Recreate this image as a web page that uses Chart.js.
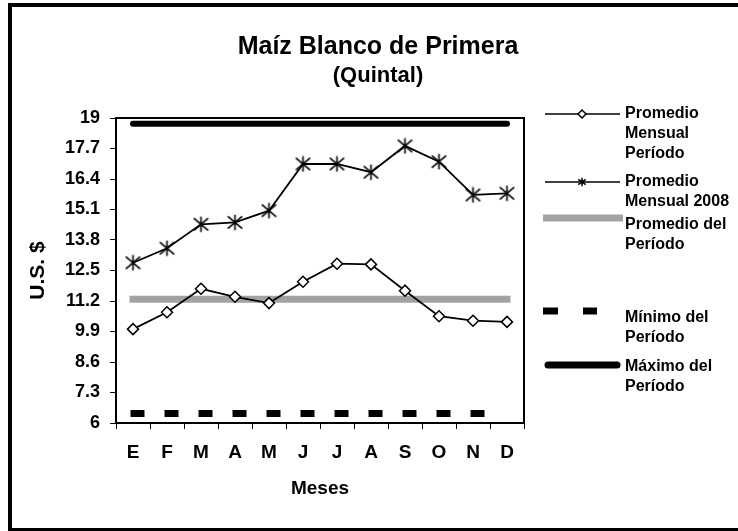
<!DOCTYPE html>
<html>
<head>
<meta charset="utf-8">
<script src="https://cdn.jsdelivr.net/npm/chart.js@4.4.1/dist/chart.umd.min.js"></script>
<style>
    html, body { margin: 0; padding: 0; background: #fff; overflow: hidden; }
    canvas { display: block; }
</style>
</head>
<body>
<canvas id="chart" width="738" height="531"></canvas>
<script>
const meses = ['E', 'F', 'M', 'A', 'M', 'J', 'J', 'A', 'S', 'O', 'N', 'D'];
const yTicks = [6, 7.3, 8.6, 9.9, 11.2, 12.5, 13.8, 15.1, 16.4, 17.7, 19];

// valores (US$ por quintal)
const promedioMensualPeriodo = [10.0, 10.72, 11.72, 11.38, 11.11, 12.02, 12.79, 12.76, 11.64, 10.55, 10.36, 10.31];
const promedioMensual2008 = [12.83, 13.45, 14.47, 14.55, 15.05, 17.04, 17.04, 16.69, 17.81, 17.14, 15.72, 15.79];
const promedioDelPeriodo = [11.27, 11.27, 11.27, 11.27, 11.27, 11.27, 11.27, 11.27, 11.27, 11.27, 11.27, 11.27];
const minimoDelPeriodo = [6.41, 6.41, 6.41, 6.41, 6.41, 6.41, 6.41, 6.41, 6.41, 6.41, 6.41, 6.41];
const maximoDelPeriodo = [18.75, 18.75, 18.75, 18.75, 18.75, 18.75, 18.75, 18.75, 18.75, 18.75, 18.75, 18.75];

const legendLabels = [
    ['Promedio', 'Mensual', 'Período'],
    ['Promedio', 'Mensual 2008'],
    ['Promedio del', 'Período'],
    ['Mínimo del', 'Período'],
    ['Máximo del', 'Período']
];

const FONT = '"Liberation Sans", Arial, sans-serif';
const GRAY = '#a2a2a2';

// asterisco tipo Excel (vertical + X)
function makeStar(size, lw) {
    const c = document.createElement('canvas');
    c.width = size; c.height = size;
    const g = c.getContext('2d');
    const m = size / 2, e = 0.8;
    g.strokeStyle = '#000';
    g.lineWidth = lw;
    g.beginPath();
    g.moveTo(m, e); g.lineTo(m, size - e);
    g.moveTo(e + 0.5, e + 1.5); g.lineTo(size - e - 0.5, size - e - 1.5);
    g.moveTo(e + 0.5, size - e - 1.5); g.lineTo(size - e - 0.5, e + 1.5);
    g.stroke();
    return c;
}
const starMark = makeStar(17, 1.6);
const starSmall = makeStar(10, 1.5);

// marco exterior (sin lado derecho) y borde superior del area de trazado
const frames = {
    id: 'frames',
    beforeDraw(chart) {
        const ctx = chart.ctx;
        ctx.save();
        ctx.fillStyle = '#fff';
        ctx.fillRect(0, 0, chart.width, chart.height);
        ctx.fillStyle = '#000';
        ctx.fillRect(8, 3, chart.width - 8, 4);
        ctx.fillRect(8, 3, 4, chart.height - 3);
        ctx.fillRect(8, chart.height - 3, chart.width - 8, 3);
        ctx.restore();
    },
    beforeDatasetsDraw(chart) {
        const { ctx, chartArea: a } = chart;
        ctx.save();
        ctx.strokeStyle = '#000';
        ctx.lineWidth = 2;
        ctx.beginPath();
        ctx.moveTo(a.left - 1, a.top);
        ctx.lineTo(a.right + 1, a.top);
        ctx.stroke();
        ctx.restore();
    }
};

// leyenda a la derecha, con etiquetas de varias lineas
const sideLegend = {
    id: 'sideLegend',
    afterDraw(chart) {
        const ctx = chart.ctx;
        const r = chart.chartArea.right;
        const x0 = r + 21, x1 = r + 96, tx = r + 101, mid = r + 58;
        const textY = [114, 182, 225, 318, 367];
        const markY = [114, 182, 218, 311, 365];
        ctx.save();
        ctx.strokeStyle = '#000';
        ctx.fillStyle = '#000';

        // 1: linea con rombo
        ctx.lineWidth = 1.5;
        ctx.beginPath();
        ctx.moveTo(x0, markY[0]); ctx.lineTo(x1, markY[0]);
        ctx.stroke();
        ctx.beginPath();
        ctx.moveTo(mid, markY[0] - 4); ctx.lineTo(mid + 4, markY[0]);
        ctx.lineTo(mid, markY[0] + 4); ctx.lineTo(mid - 4, markY[0]);
        ctx.closePath();
        ctx.fillStyle = '#fff';
        ctx.fill();
        ctx.stroke();
        ctx.fillStyle = '#000';

        // 2: linea con asterisco
        ctx.beginPath();
        ctx.moveTo(x0, markY[1]); ctx.lineTo(x1, markY[1]);
        ctx.stroke();
        ctx.drawImage(starSmall, mid - 5, markY[1] - 5);

        // 3: banda gris
        ctx.fillStyle = GRAY;
        ctx.fillRect(x0 - 2, markY[2] - 3.5, 80, 7);
        ctx.fillStyle = '#000';

        // 4: guiones
        ctx.fillRect(x0 - 2, markY[3] - 3.5, 15, 7);
        ctx.fillRect(x0 + 38, markY[3] - 3.5, 14, 7);

        // 5: linea gruesa
        ctx.lineWidth = 7;
        ctx.lineCap = 'round';
        ctx.beginPath();
        ctx.moveTo(x0 + 3, markY[4]); ctx.lineTo(x1 - 3, markY[4]);
        ctx.stroke();

        ctx.font = 'bold 16px ' + FONT;
        ctx.textBaseline = 'middle';
        ctx.textAlign = 'left';
        legendLabels.forEach((lines, i) => {
            lines.forEach((t, j) => ctx.fillText(t, tx, textY[i] + j * 20));
        });
        ctx.restore();
    }
};

const tickFont = { family: FONT, size: 18, weight: 'bold' };

new Chart(document.getElementById('chart'), {
    type: 'line',
    data: {
        labels: meses,
        datasets: [
            {
                label: 'Promedio Mensual Período',
                data: promedioMensualPeriodo,
                borderColor: '#000',
                borderWidth: 1.8,
                pointStyle: 'rectRot',
                pointRadius: 5.5,
                pointBackgroundColor: '#fff',
                pointBorderColor: '#000',
                pointBorderWidth: 1.5
            },
            {
                label: 'Promedio Mensual 2008',
                data: promedioMensual2008,
                borderColor: '#000',
                borderWidth: 1.8,
                pointStyle: starMark,
                pointRadius: 8
            },
            {
                label: 'Máximo del Período',
                data: maximoDelPeriodo,
                borderColor: '#000',
                borderWidth: 6,
                borderCapStyle: 'round',
                pointRadius: 0
            },
            {
                label: 'Mínimo del Período',
                data: minimoDelPeriodo,
                borderColor: '#000',
                borderWidth: 7,
                borderDash: [7, 27],
                borderDashOffset: -1,
                borderCapStyle: 'square',
                pointRadius: 0
            },
            {
                label: 'Promedio del Período',
                data: promedioDelPeriodo,
                borderColor: GRAY,
                borderWidth: 7,
                borderCapStyle: 'square',
                pointRadius: 0
            }
        ]
    },
    options: {
        responsive: false,
        animation: false,
        events: [],
        layout: { padding: { left: 18, right: 0, top: 0, bottom: 0 } },
        plugins: {
            legend: { display: false },
            tooltip: { enabled: false },
            title: {
                display: true,
                text: 'Maíz Blanco de Primera',
                color: '#000',
                font: { family: FONT, size: 25, weight: 'bold', lineHeight: 1.2 },
                padding: { top: 32, bottom: 1 }
            },
            subtitle: {
                display: true,
                text: '(Quintal)',
                color: '#000',
                font: { family: FONT, size: 22, weight: 'bold', lineHeight: 1.2 },
                padding: { top: 0, bottom: 28.6 }
            }
        },
        scales: {
            x: {
                offset: true,
                grid: { drawOnChartArea: false, offset: true, tickLength: 6, color: '#000', lineWidth: 1 },
                border: { color: '#000', width: 2 },
                ticks: { color: '#000', font: { family: FONT, size: 19, weight: 'bold' }, padding: 12, maxRotation: 0, autoSkip: false },
                title: {
                    display: true,
                    text: 'Meses',
                    color: '#000',
                    font: { family: FONT, size: 19, weight: 'bold' },
                    padding: { top: 0, bottom: 31 }
                },
                afterFit: s => { s.height = 108; }
            },
            y: {
                min: 6,
                max: 19,
                afterBuildTicks: s => { s.ticks = yTicks.map(v => ({ value: v })); },
                grid: { drawOnChartArea: false, tickLength: 6, color: '#000', lineWidth: 1 },
                border: { color: '#000', width: 2 },
                ticks: { color: '#000', font: tickFont, padding: 10, callback: v => String(v) },
                title: {
                    display: true,
                    text: 'U.S. $',
                    color: '#000',
                    font: { family: FONT, size: 21, weight: 'bold' },
                    padding: { top: 8, bottom: 0 }
                },
                afterFit: s => { s.width = 98; }
            },
            y2: {
                position: 'right',
                min: 6,
                max: 19,
                grid: { display: false },
                ticks: { display: false },
                border: { display: true, color: '#000', width: 2 },
                afterFit: s => { s.width = 214; }
            }
        }
    },
    plugins: [frames, sideLegend]
});
</script>
</body>
</html>
